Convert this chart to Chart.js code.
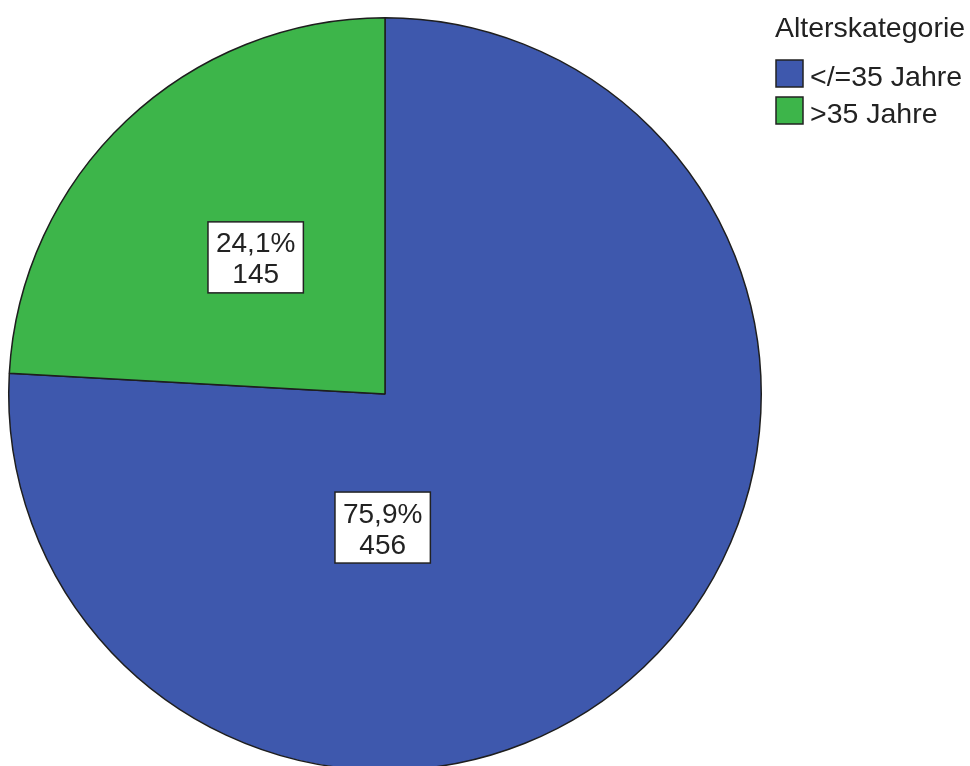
<!DOCTYPE html>
<html>
<head>
<meta charset="utf-8">
<script src="https://cdn.jsdelivr.net/npm/chart.js@4"></script>
<style>
  html, body { margin: 0; padding: 0; background: #fff; }
  #wrap { width: 970px; height: 766px; overflow: hidden; position: relative; }
</style>
</head>
<body>
<div id="wrap"><canvas id="pie" width="970" height="800"></canvas></div>
<script>
// age groups and counts
const categories = ['</=35 Jahre', '>35 Jahre'];
const counts = [456, 145];
const legendTitle = 'Alterskategorie';
const sliceColors = ['#3e58ad', '#3db54a'];

const total = counts.reduce((a, b) => a + b, 0);
const percentText = counts.map(v => (v / total * 100).toFixed(1).replace('.', ',') + '%');

const FONT = '"Liberation Sans", Arial, sans-serif';

// boxed value labels inside the slices
const sliceLabels = {
  id: 'sliceLabels',
  afterDatasetsDraw(chart, args, opts) {
    const ctx = chart.ctx;
    const arcs = chart.getDatasetMeta(0).data;
    arcs.forEach((arc, i) => {
      const p = arc.getProps(['x', 'y', 'startAngle', 'endAngle', 'outerRadius'], true);
      const spot = opts.spots[i];
      const ang = spot.deg == null ? (p.startAngle + p.endAngle) / 2 : (spot.deg - 90) * Math.PI / 180;
      const cx = p.x + Math.cos(ang) * p.outerRadius * spot.frac;
      const cy = p.y + Math.sin(ang) * p.outerRadius * spot.frac;
      const lines = [percentText[i], String(counts[i])];
      ctx.save();
      ctx.font = '28px ' + FONT;
      const w = Math.max(...lines.map(l => ctx.measureText(l).width)) + 16;
      const h = 71;
      ctx.fillStyle = '#fff';
      ctx.strokeStyle = '#222';
      ctx.lineWidth = 1.5;
      ctx.fillRect(cx - w / 2, cy - h / 2, w, h);
      ctx.strokeRect(cx - w / 2, cy - h / 2, w, h);
      ctx.fillStyle = '#222';
      ctx.textAlign = 'center';
      ctx.textBaseline = 'alphabetic';
      ctx.fillText(lines[0], cx, cy - 5);
      ctx.fillText(lines[1], cx, cy + 26);
      ctx.restore();
    });
  }
};

// legend block at the top right
const sideLegend = {
  id: 'sideLegend',
  afterDraw(chart) {
    const ctx = chart.ctx;
    ctx.save();
    ctx.fillStyle = '#222';
    ctx.font = '28.5px ' + FONT;
    ctx.textBaseline = 'alphabetic';
    ctx.fillText(legendTitle, 775, 37);
    categories.forEach((c, i) => {
      const y = 60 + i * 37;
      ctx.fillStyle = sliceColors[i];
      ctx.fillRect(776, y, 27, 27);
      ctx.strokeStyle = '#222';
      ctx.lineWidth = 1.5;
      ctx.strokeRect(776, y, 27, 27);
      ctx.fillStyle = '#222';
      ctx.fillText(c, 810, y + 26);
    });
    ctx.restore();
  }
};

new Chart(document.getElementById('pie'), {
  type: 'pie',
  data: {
    labels: categories,
    datasets: [{
      data: counts,
      backgroundColor: sliceColors,
      borderColor: '#1e1e1e',
      borderWidth: 1.5,
      hoverOffset: 0
    }]
  },
  options: {
    responsive: false,
    animation: false,
    events: [],
    layout: { padding: { left: 8, top: 17, right: 208, bottom: 29 } },
    plugins: {
      legend: { display: false },
      tooltip: { enabled: false },
      sliceLabels: { spots: [{ deg: 181, frac: 0.355 }, { deg: null, frac: 0.5 }] }
    }
  },
  plugins: [sliceLabels, sideLegend]
});
</script>
</body>
</html>
